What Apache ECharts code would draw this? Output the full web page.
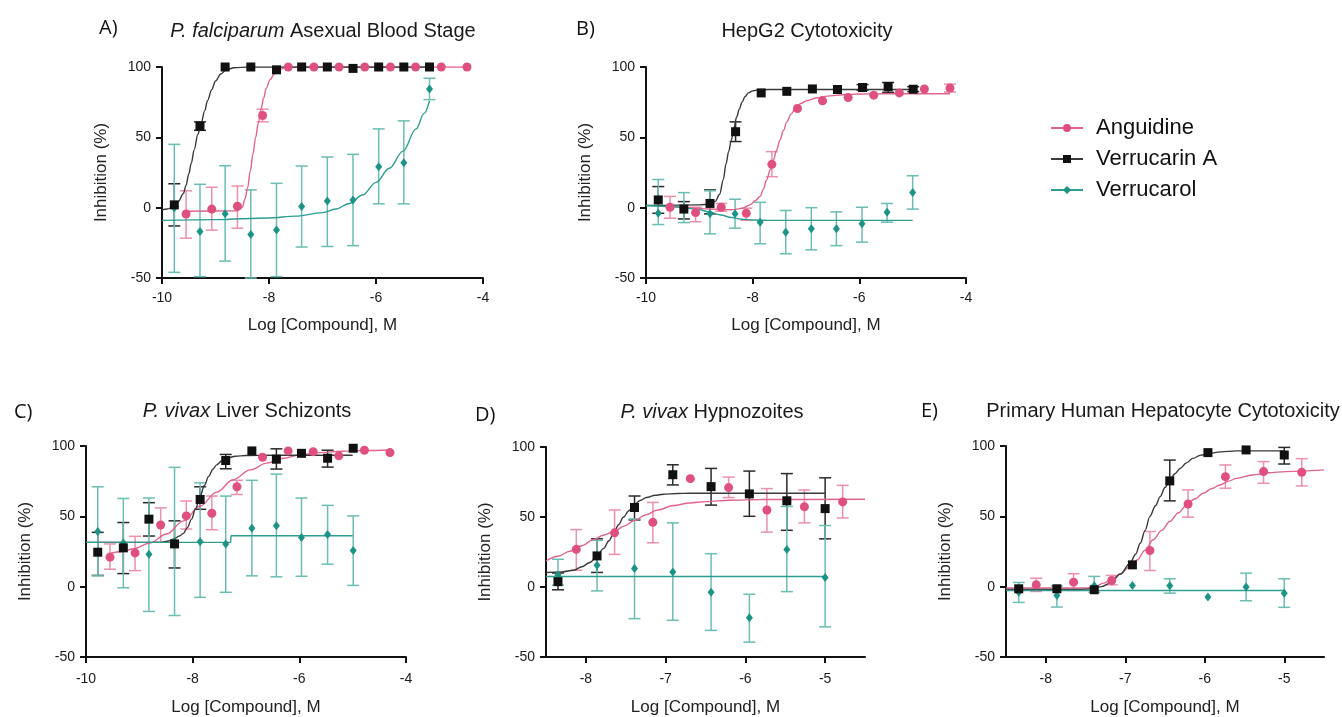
<!DOCTYPE html>
<html><head><meta charset="utf-8">
<script src="https://cdn.jsdelivr.net/npm/echarts@6/dist/echarts.min.js"></script>
<style>html,body{margin:0;padding:0;background:#fff}#c{width:1342px;height:717px}</style>
</head><body><div id="c"></div>
<script>
// ---------- DATA: points are [logConc, mean, errLow, errHigh] ----------
// Panel A: P. falciparum Asexual Blood Stage
const angA = [[-9.55,-4.5,-21.7,12],[-9.07,-1,-16,14.5],[-8.59,1,-14.6,15.4],[-8.12,65.5,61,70],[-7.64,100],[-7.16,100],[-6.69,100],[-6.21,100],[-5.73,100],[-5.26,100],[-4.78,100],[-4.30,100]];
const verA = [[-9.77,2,-13,17],[-9.29,58,55,61],[-8.82,100],[-8.34,100],[-7.86,98],[-7.39,100],[-6.91,100],[-6.43,99],[-5.95,100],[-5.48,100],[-5.0,100]];
const volA = [[-9.77,0,-46,45],[-9.29,-17,-49,16.6],[-8.82,-4.4,-38,29.8],[-8.34,-19,-50,12.6],[-7.86,-15.8,-49,17.3],[-7.39,0.8,-28,29.6],[-6.91,4.8,-27.6,36],[-6.43,5.5,-27,37.9],[-5.95,29,2.7,56],[-5.48,32,2.7,61.7],[-5.0,84.4,76.8,92]];
const fitAngA = [[-9.6,-2.5],[-8.6,-2.3],[-8.5,0],[-8.45,6],[-8.4,14],[-8.35,26],[-8.3,38],[-8.25,50],[-8.2,60],[-8.15,70],[-8.1,78],[-8.05,85],[-7.98,91],[-7.9,95],[-7.8,98],[-7.7,99.5],[-7.5,100],[-4.3,100]];
const fitVerA = [[-10,-1.5],[-9.9,-1],[-9.8,0.5],[-9.7,4],[-9.6,10],[-9.55,16],[-9.5,24],[-9.45,32],[-9.4,41],[-9.33,52],[-9.27,60],[-9.2,69],[-9.15,76],[-9.07,84],[-9.0,90],[-8.9,95],[-8.8,98],[-8.65,99.5],[-8.4,100],[-5,100]];
const fitVolA = [[-10,-9],[-9,-8.5],[-8,-7.3],[-7.5,-6],[-7,-3.5],[-6.75,-1],[-6.5,3],[-6.25,9],[-6,18],[-5.75,28],[-5.5,40],[-5.25,56],[-5.1,67],[-5,76]];

// Panel B: HepG2 Cytotoxicity
const angB = [[-9.55,0.3,-7.5,8],[-9.07,-3.5,-10,0.3],[-8.59,0.3,-2.5,3],[-8.12,-4,-9,-0.4],[-7.64,30.8,22,39.8],[-7.16,70.5],[-6.69,76],[-6.21,78.3],[-5.73,80],[-5.25,81.6],[-4.78,84.4],[-4.3,85,82.2,87.8]];
const verB = [[-9.77,5.5,-4,15],[-9.29,-1,-8,4.3],[-8.8,3,-4.4,12.6],[-8.32,54,47,61],[-7.84,81.6],[-7.36,82.7],[-6.88,84.4],[-6.41,84],[-5.94,85.4,83.5,87.5],[-5.46,86,82,89],[-4.99,84.2,82.5,86]];
const volB = [[-9.77,-4,-12,20],[-9.29,0,-10.6,10.7],[-8.8,-4.4,-18.6,12],[-8.33,-4.4,-14.6,6],[-7.86,-10.3,-25.7,3.8],[-7.38,-17.4,-32.8,-2],[-6.9,-15,-30,0],[-6.43,-15,-27,-3],[-5.95,-11.5,-24.5,0.3],[-5.48,-3.2,-10.3,3],[-5.0,10.7,-1,22.7]];
const fitAngB = [[-9.6,1],[-9.2,0],[-8.8,-1],[-8.4,-1.5],[-8.2,-0.5],[-8.05,2],[-7.95,5],[-7.86,8],[-7.8,13],[-7.74,19.7],[-7.67,27],[-7.61,34],[-7.55,41],[-7.49,48],[-7.42,55],[-7.36,61],[-7.28,66.5],[-7.2,70.5],[-7.1,74],[-6.99,76],[-6.8,78],[-6.6,79.3],[-6.3,80.3],[-6,80.8],[-5.5,81],[-4.3,81]];
const fitVerB = [[-10,1.5],[-9,2],[-8.8,2.5],[-8.7,4.5],[-8.62,9.5],[-8.55,20],[-8.5,31],[-8.45,40],[-8.4,48],[-8.35,57],[-8.3,64.5],[-8.25,70],[-8.2,75],[-8.14,79],[-8.08,81.6],[-8,83],[-7.9,83.7],[-7.7,84],[-5,84]];
const fitVolB = [[-10,1.5],[-9.5,0.8],[-9.2,-0.5],[-9,-1.5],[-8.8,-3.2],[-8.6,-5.2],[-8.4,-7],[-8.2,-8.2],[-8,-8.8],[-7.7,-9],[-5,-9]];

// Panel C: P. vivax Liver Schizonts
const angC = [[-9.55,21,12.4,30.4],[-9.08,24,11.4,35.8],[-8.6,43.8,31.6,56],[-8.12,50.3,41,60.9],[-7.64,52.2,40.5,64.4],[-7.17,71,65.5,75.6],[-6.69,92],[-6.21,96.5],[-5.74,96],[-5.26,93],[-4.78,97],[-4.3,95.3]];
const verC = [[-9.78,24.5,8,38.6],[-9.3,27.6,9.3,45.6],[-8.82,48,36,59.7],[-8.34,30.4,13.3,46.8],[-7.86,62,55,71],[-7.38,89.7,83.8,94],[-6.89,96.5],[-6.43,90.6,83.6,98],[-5.96,94.8],[-5.47,91.3,85,97],[-4.99,98.4]];
const volC = [[-9.78,39.3,7.7,71],[-9.3,31,-0.8,62.7],[-8.82,23,-17.6,63],[-8.34,32,-20.5,84.8],[-7.86,32,-7.6,73.8],[-7.38,30.4,-4,64.4],[-6.89,41.6,7.7,75.6],[-6.43,43.3,7,80],[-5.96,35,7.4,63],[-5.47,37,16,57.8],[-4.99,25.7,0.9,50.3]];
const fitAngC = [[-9.58,23.4],[-9.3,25],[-9.11,27],[-8.8,31],[-8.49,37.4],[-8.17,46.8],[-7.86,57.3],[-7.55,67.2],[-7.24,76],[-6.92,83],[-6.61,87.8],[-6.3,91.3],[-5.99,93.7],[-5.6,95.3],[-5.2,96.3],[-4.8,96.8],[-4.29,97.2]];
const fitVerC = [[-10,31.5],[-8.6,31.5],[-8.45,32.5],[-8.35,34],[-8.25,36],[-8.17,38],[-8.1,42],[-8.02,48],[-7.95,55],[-7.86,64.4],[-7.78,72],[-7.7,78.4],[-7.62,83.5],[-7.55,86.6],[-7.45,89.5],[-7.36,91.3],[-7.2,92.7],[-7,93.2],[-6.5,93.4],[-5,93.4]];
const fitVolC = [[-10,31.5],[-7.29,31.5],[-7.28,36.2],[-5,36.2]];

// Panel D: P. vivax Hypnozoites
const angD = [[-8.12,26.9,12,41],[-7.64,38.7,23.3,55],[-7.16,46.2,31.6,60.4],[-6.69,77.4],[-6.21,71,63.9,78.5],[-5.73,55,39.2,70.3],[-5.26,57.3,45.8,69.3],[-4.78,60.8,49.3,72.6]];
const verD = [[-8.35,3.8,-2,10],[-7.86,22.2,10.4,34.4],[-7.39,56.8,47.9,65],[-6.91,80.2,72.9,87.3],[-6.43,71.7,58.5,84.7],[-5.95,66.5,50.5,82.8],[-5.48,61.6,40.5,81],[-5.0,56,34.4,78]];
const volD = [[-8.35,8.5,1.4,19.8],[-7.86,15.6,-2.8,33.3],[-7.39,13.2,-22.6,48.6],[-6.91,10.8,-23.8,45.8],[-6.43,-3.8,-31,23.8],[-5.95,-22,-39.4,-5.2],[-5.48,26.7,-3.3,57.5],[-5.0,6.8,-28.5,43.9]];
const fitAngD = [[-8.5,18.6],[-8.35,22],[-8.2,25.5],[-8.05,29.5],[-7.9,34],[-7.78,37],[-7.65,39.5],[-7.52,43.5],[-7.39,47.5],[-7.25,51.5],[-7.1,55],[-6.9,58.2],[-6.7,60],[-6.5,61],[-6.2,62],[-5.8,62.5],[-4.5,62.7]];
const fitVerD = [[-8.5,10.4],[-8.3,10.8],[-8.15,12],[-8.05,14.5],[-7.95,17.5],[-7.86,22],[-7.78,27.4],[-7.71,33],[-7.65,38.7],[-7.59,44.5],[-7.53,49.8],[-7.46,54.5],[-7.4,58.5],[-7.32,61.8],[-7.24,63.9],[-7.13,65.5],[-7.03,66.3],[-6.85,66.8],[-6.7,67],[-5,67]];
const fitVolD = [[-8.5,7.5],[-5,7.5]];

// Panel E: Primary Human Hepatocyte Cytotoxicity
const angE = [[-8.12,1.3,-3.4,6],[-7.65,3.2,-2.7,9.2],[-7.17,4.4,1.3,8],[-6.69,25.7,11.5,39.2],[-6.21,58.8,49.4,68.8],[-5.74,78.2,70,86.5],[-5.26,81.8,73.5,88.9],[-4.78,81.3,71.6,91]];
const verE = [[-8.34,-1.5],[-7.86,-1.5],[-7.39,-2.2],[-6.91,15.5],[-6.44,75.2,61,90],[-5.96,95.3],[-5.48,97.2],[-5.0,93.6,87.2,99]];
const volE = [[-8.34,-4,-11.2,3],[-7.86,-6.2,-14.5,0.6],[-7.39,0.6,-4,7.3],[-6.91,0.9],[-6.44,0.6,-4.6,5.6],[-5.96,-7.4],[-5.48,-0.3,-10,9.6],[-5.0,-4.6,-14.7,5.6]];
const fitAngE = [[-8.5,-1],[-7.48,-1],[-7.37,0.5],[-7.27,2.5],[-7.16,5.5],[-7.06,9.2],[-6.95,14],[-6.85,19],[-6.75,26],[-6.65,33.3],[-6.54,40],[-6.44,46.3],[-6.33,52.5],[-6.23,58.1],[-6.12,62.5],[-6.02,66.4],[-5.91,69.8],[-5.81,72.3],[-5.7,75],[-5.6,77],[-5.4,79.4],[-5.2,81],[-4.98,81.8],[-4.5,83]];
const fitVerE = [[-8.5,-2],[-7.6,-2],[-7.4,-1.5],[-7.3,0],[-7.19,2.5],[-7.06,9],[-6.94,16.7],[-6.87,23],[-6.81,31],[-6.75,40],[-6.69,50],[-6.62,57.5],[-6.56,64],[-6.5,70.5],[-6.44,75.9],[-6.37,80.5],[-6.31,84],[-6.23,88],[-6.15,91.2],[-6.05,93.5],[-5.94,94.8],[-5.8,95.8],[-5.6,96.5],[-5,96.5]];
const fitVolE = [[-8.5,-2.7],[-5,-2.7]];

// Axis tick labels
const yTicks = [-50, 0, 50, 100];
const xTicksWide = [-10, -8, -6, -4];
const xTicksNarrow = [-8, -7, -6, -5];
const panelLetters = ['A)', 'B)', 'C)', 'D)', 'E)'];
const compoundNames = ['Anguidine', 'Verrucarin A', 'Verrucarol'];

// ---------- CHART ----------
const FONT = '"Liberation Sans", Arial, Helvetica, sans-serif';
const panels = [
  {pts:[angA,verA,volA], fits:[fitAngA,fitVerA,fitVolA], grid:{left:162,top:67,width:321,height:211}, wide:true, bottom:false,
   title:'{i|P. falciparum} Asexual Blood Stage', tx:323, ty:21, lx:99, ly:18},
  {pts:[angB,verB,volB], fits:[fitAngB,fitVerB,fitVolB], grid:{left:646,top:67,width:320,height:211}, wide:true, bottom:false,
   title:'HepG2 Cytotoxicity', tx:807, ty:21, lx:576, ly:19},
  {pts:[angC,verC,volC], fits:[fitAngC,fitVerC,fitVolC], grid:{left:86,top:446,width:320,height:213}, wide:true, bottom:true,
   title:'{i|P. vivax} Liver Schizonts', tx:247, ty:401, lx:14, ly:402},
  {pts:[angD,verD,volD], fits:[fitAngD,fitVerD,fitVolD], grid:{left:546,top:447,width:319,height:212}, wide:false, bottom:true,
   title:'{i|P. vivax} Hypnozoites', tx:712, ty:402, lx:475, ly:405},
  {pts:[angE,verE,volE], fits:[fitAngE,fitVerE,fitVolE], grid:{left:1006,top:446,width:318,height:211}, wide:false, bottom:true,
   title:'Primary Human Hepatocyte Cytotoxicity', tx:1163, ty:401, lx:921, ly:401}
];
const styles = [
  {color:'#E0507E', line:'#E0648C', err:'#EC90AC', symbol:'circle', size:9, z:5},
  {color:'#111111', line:'#3a3a3a', err:'#2a2a2a', symbol:'rect', size:9, z:6},
  {color:'#1B9487', line:'#2E9E92', err:'#6CBDB3', symbol:'diamond', size:[7,9], z:4}
];

const grid = [], xAxis = [], yAxis = [], series = [], title = [];
const axisCommon = {
  axisLine: {show:true, onZero:false, lineStyle:{color:'#111', width:2}},
  axisTick: {show:true, length:6, lineStyle:{color:'#111', width:2}},
  splitLine: {show:false},
  axisLabel: {color:'#1a1a1a', fontSize:14, fontFamily:FONT},
  nameTextStyle: {color:'#222', fontSize:17, fontFamily:FONT}
};

panels.forEach((p, i) => {
  grid.push(Object.assign({containLabel:false}, p.grid));
  const xa = Object.assign({}, axisCommon, {
    type:'value', gridIndex:i, name:'Log [Compound], M', nameLocation:'middle', nameGap: p.bottom ? 42 : 39,
    axisLabel: Object.assign({}, axisCommon.axisLabel, {margin: p.bottom ? 15 : 13})
  });
  if (p.wide) {
    xa.min = xTicksWide[0]; xa.max = xTicksWide[xTicksWide.length-1]; xa.interval = 2;
  } else {
    xa.min = -8.5; xa.max = -4.5;
    xa.axisLabel.customValues = xTicksNarrow;
    xa.axisTick = Object.assign({}, axisCommon.axisTick, {customValues: xTicksNarrow});
  }
  xAxis.push(xa);
  yAxis.push(Object.assign({}, axisCommon, {
    type:'value', gridIndex:i, min:yTicks[0], max:yTicks[yTicks.length-1], interval:50,
    name:'Inhibition (%)', nameLocation:'middle', nameGap:52,
    axisLabel: Object.assign({}, axisCommon.axisLabel, {margin:11})
  }));
  title.push({
    text:p.title, left:p.tx, top:p.ty, textAlign:'center', padding:0,
    textStyle:{fontSize:20, fontWeight:'normal', color:'#1a1a1a', fontFamily:FONT,
      rich:{i:{fontSize:20, fontStyle:'italic', color:'#1a1a1a', fontFamily:FONT}}}
  });
  title.push({
    text:panelLetters[i], left:p.lx, top:p.ly, padding:0,
    textStyle:{fontSize:20, fontWeight:'normal', color:'#111', fontFamily:'"Open Sans", ' + FONT}
  });

  styles.forEach((s, k) => {
    const name = compoundNames[k];
    const stepFit = (i === 2 && k === 2);
    series.push({
      type:'line', name, xAxisIndex:i, yAxisIndex:i, data:p.fits[k],
      smooth: stepFit ? false : 0.35, smoothMonotone:'x', showSymbol:false, symbol:s.symbol,
      lineStyle:{color:s.line, width:1.4}, itemStyle:{color:s.color}, z:3, silent:true, animation:false
    });
    series.push({
      type:'custom', name, xAxisIndex:i, yAxisIndex:i,
      data:p.pts[k].filter(d => d.length >= 4 && Math.abs(d[3]-d[2]) > 1).map(d => [d[0], d[2], d[3]]),
      encode:{x:0, y:[1,2]}, z:2, silent:true, animation:false,
      renderItem: (params, api) => {
        const x = api.value(0), lo = api.value(1), hi = api.value(2);
        const a = api.coord([x, hi]), b = api.coord([x, lo]);
        const w = 6;
        const st = {stroke:s.err, lineWidth:1.5, fill:null};
        return {type:'group', children:[
          {type:'line', shape:{x1:a[0], y1:a[1], x2:b[0], y2:b[1]}, style:st},
          {type:'line', shape:{x1:a[0]-w, y1:a[1], x2:a[0]+w, y2:a[1]}, style:st},
          {type:'line', shape:{x1:b[0]-w, y1:b[1], x2:b[0]+w, y2:b[1]}, style:st}
        ]};
      }
    });
    series.push({
      type:'scatter', name, xAxisIndex:i, yAxisIndex:i, data:p.pts[k].map(d => [d[0], d[1]]),
      symbol:s.symbol, symbolSize:s.size, itemStyle:{color:s.color, opacity:1}, z:s.z, animation:false
    });
  });
});

const chart = echarts.init(document.getElementById('c'), null, {renderer:'canvas'});
chart.setOption({
  backgroundColor:'#fff',
  animation:false,
  title, grid, xAxis, yAxis, series,
  legend:{
    data:compoundNames, orient:'vertical', left:1045, top:112, itemWidth:32, itemHeight:10, itemGap:9,
    selectedMode:false,
    textStyle:{fontSize:22, color:'#111', fontFamily:FONT, padding:[0,0,0,8], lineHeight:22}
  }
});
</script></body></html>
